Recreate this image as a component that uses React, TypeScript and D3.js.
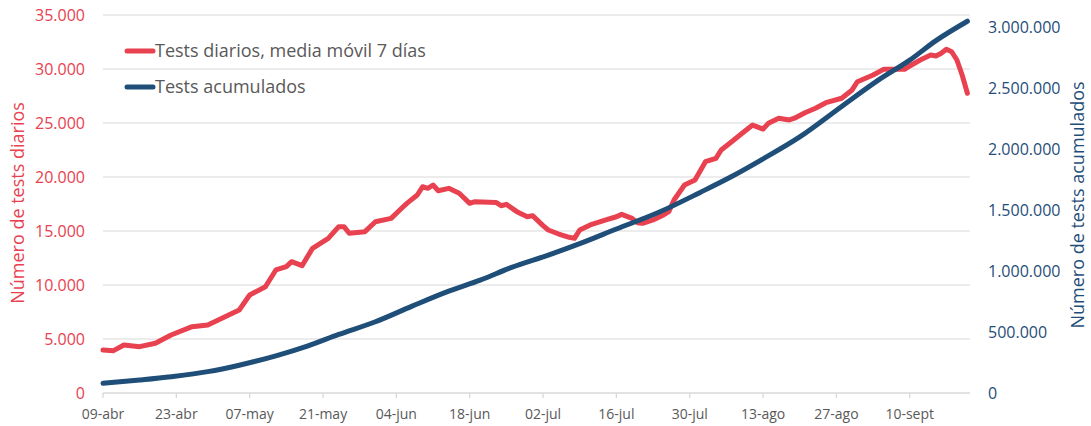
import React from 'react';
import * as d3 from 'd3';

// Tests diarios (media móvil 7 días) — fechas 2020
const dailyDates = [
  '2020-04-09', '2020-04-11', '2020-04-13', '2020-04-16', '2020-04-19', '2020-04-22', '2020-04-26', '2020-04-29',
  '2020-05-03', '2020-05-05', '2020-05-07', '2020-05-10', '2020-05-12', '2020-05-14', '2020-05-15',
  '2020-05-17', '2020-05-19', '2020-05-22', '2020-05-24', '2020-05-25', '2020-05-26', '2020-05-29',
  '2020-05-31', '2020-06-03', '2020-06-05', '2020-06-06', '2020-06-08', '2020-06-09', '2020-06-10',
  '2020-06-11', '2020-06-12', '2020-06-14', '2020-06-16', '2020-06-18', '2020-06-19', '2020-06-23',
  '2020-06-24', '2020-06-25', '2020-06-27', '2020-06-29', '2020-06-30', '2020-07-02', '2020-07-03',
  '2020-07-05', '2020-07-07', '2020-07-08', '2020-07-09', '2020-07-11', '2020-07-14', '2020-07-16',
  '2020-07-17', '2020-07-19', '2020-07-20', '2020-07-21', '2020-07-22', '2020-07-23', '2020-07-25',
  '2020-07-26', '2020-07-27', '2020-07-29', '2020-07-31', '2020-08-02', '2020-08-04', '2020-08-05',
  '2020-08-07', '2020-08-09', '2020-08-11', '2020-08-13', '2020-08-14', '2020-08-16', '2020-08-18',
  '2020-08-19', '2020-08-21', '2020-08-23', '2020-08-25', '2020-08-28', '2020-08-30', '2020-08-31',
  '2020-09-03', '2020-09-05', '2020-09-07', '2020-09-09', '2020-09-10', '2020-09-12', '2020-09-14',
  '2020-09-15', '2020-09-16', '2020-09-17', '2020-09-18', '2020-09-19', '2020-09-20', '2020-09-21',
];
const dailyValues = [
  3980, 3920, 4440, 4290, 4600, 5370, 6140, 6300,
  7220, 7690, 9070, 9840, 11390, 11700, 12160,
  11790, 13400, 14320, 15400, 15400, 14790, 14940,
  15860, 16170, 17100, 17560, 18330, 19100, 18950,
  19260, 18730, 18950, 18490, 17560, 17710, 17650,
  17340, 17470, 16790, 16320, 16420, 15500, 15090,
  14720, 14420, 14320, 15090, 15560, 16020, 16320,
  16540, 16170, 15770, 15710, 15860, 16020, 16480,
  16790, 17870, 19260, 19720, 21420, 21730, 22500,
  23270, 24050, 24810, 24440, 24970, 25440, 25280,
  25440, 25950, 26360, 26880, 27290, 28060, 28820,
  29440, 29970, 29970, 29970, 30280, 30830, 31300,
  31200, 31450, 31820, 31600, 30830, 29440, 27750,
];

// Tests acumulados
const cumDates = [
  '2020-04-09', '2020-04-16', '2020-04-22', '2020-04-29', '2020-05-05', '2020-05-12', '2020-05-18',
  '2020-05-24', '2020-05-31', '2020-06-07', '2020-06-14', '2020-06-20', '2020-06-26', '2020-07-03',
  '2020-07-09', '2020-07-16', '2020-07-24', '2020-08-01', '2020-08-07', '2020-08-13', '2020-08-20',
  '2020-08-28', '2020-09-04', '2020-09-10', '2020-09-15', '2020-09-21',
];
const cumValues = [
  79500, 107000, 134000, 175000, 228000, 305000, 385000,
  480000, 584000, 712000, 835000, 926000, 1030000, 1131000,
  1225000, 1345000, 1480000, 1645000, 1775000, 1920000, 2100000,
  2350000, 2566000, 2730000, 2890000, 3049000,
];

const xTickDates = [
  '2020-04-09', '2020-04-23', '2020-05-07', '2020-05-21', '2020-06-04', '2020-06-18',
  '2020-07-02', '2020-07-16', '2020-07-30', '2020-08-13', '2020-08-27', '2020-09-10',
];
const xTickLabels = [
  '09-abr', '23-abr', '07-may', '21-may', '04-jun', '18-jun',
  '02-jul', '16-jul', '30-jul', '13-ago', '27-ago', '10-sept',
];
const leftTicks = [0, 5000, 10000, 15000, 20000, 25000, 30000, 35000];
const rightTicks = [0, 500000, 1000000, 1500000, 2000000, 2500000, 3000000];

const seriesNames = ['Tests diarios, media móvil 7 días', 'Tests acumulados'];
const leftTitle = 'Número de tests diarios';
const rightTitle = 'Número de tests acumulados';

const RED = '#E8414F';
const BLUE = '#1F4E79';
const GRID = '#D9D9D9';
const FONT = "'Open Sans', sans-serif";

const W = 1091;
const H = 426;
const plot = { left: 103, right: 970, top: 15, bottom: 393 };

const parse = d3.timeParse('%Y-%m-%d');
const locale = d3.formatLocale({ decimal: ',', thousands: '.', grouping: [3], currency: ['', '€'] });
const fmt = locale.format(',d');

export default function App() {
  const start = parse('2020-04-09') as Date;
  const end = d3.timeHour.offset(parse('2020-09-21') as Date, 12);
  const x = d3.scaleTime().domain([start, end]).range([plot.left, plot.right]);
  const yL = d3.scaleLinear().domain([0, 35000]).range([plot.bottom, plot.top]);
  const yR = d3.scaleLinear().domain([0, 3100000]).range([plot.bottom, plot.top]);

  const daily = dailyDates.map((d, i) => ({ d: parse(d) as Date, v: dailyValues[i] }));
  const cum = cumDates.map((d, i) => ({ d: parse(d) as Date, v: cumValues[i] }));

  const lineL = d3.line<{ d: Date; v: number }>().x((p) => x(p.d)).y((p) => yL(p.v)).curve(d3.curveLinear);
  const lineR = d3.line<{ d: Date; v: number }>().x((p) => x(p.d)).y((p) => yR(p.v)).curve(d3.curveMonotoneX);

  return (
    <svg width={W} height={H} style={{ position: 'absolute', left: 0, top: 0, background: '#fff' }} fontFamily={FONT}>
      {/* gridlines */}
      {leftTicks.slice(1).map((t) => (
        <line key={'g' + t} x1={plot.left} x2={plot.right} y1={yL(t)} y2={yL(t)} stroke={GRID} strokeWidth={1.2} />
      ))}
      {/* x axis */}
      <line x1={plot.left} x2={plot.right} y1={plot.bottom} y2={plot.bottom} stroke={GRID} strokeWidth={1.3} />
      {xTickDates.map((t, i) => {
        const xx = x(parse(t) as Date);
        return (
          <g key={'x' + t}>
            <line x1={xx} x2={xx} y1={plot.bottom} y2={plot.bottom + 5} stroke={GRID} strokeWidth={1.3} />
            <text x={xx} y={419} textAnchor="middle" fontSize={14} fill="#595959">{xTickLabels[i]}</text>
          </g>
        );
      })}
      {/* left axis labels */}
      {leftTicks.map((t) => (
        <text key={'l' + t} x={85} y={yL(t)} dy="0.36em" textAnchor="end" fontSize={16} fill={RED}>{fmt(t)}</text>
      ))}
      {/* right axis labels */}
      {rightTicks.map((t) => (
        <text key={'r' + t} x={988} y={yR(t)} dy="0.36em" textAnchor="start" fontSize={16} fill={BLUE}>{fmt(t)}</text>
      ))}
      {/* axis titles */}
      <text transform={`translate(24, 203) rotate(-90)`} textAnchor="middle" fontSize={18} fill={RED}>{leftTitle}</text>
      <text transform={`translate(1084, 205) rotate(-90)`} textAnchor="middle" fontSize={18} fill={BLUE}>{rightTitle}</text>
      {/* series */}
      <path d={lineL(daily) || ''} fill="none" stroke={RED} strokeWidth={5} strokeLinejoin="round" strokeLinecap="round" />
      <path d={lineR(cum) || ''} fill="none" stroke={BLUE} strokeWidth={5} strokeLinejoin="round" strokeLinecap="round" />
      {/* legend */}
      <line x1={127} x2={153} y1={51} y2={51} stroke={RED} strokeWidth={5} strokeLinecap="round" />
      <text x={155} y={57} fontSize={18} fill="#595959">{seriesNames[0]}</text>
      <line x1={127} x2={153} y1={87} y2={87} stroke={BLUE} strokeWidth={5} strokeLinecap="round" />
      <text x={155} y={93} fontSize={18} fill="#595959">{seriesNames[1]}</text>
    </svg>
  );
}
